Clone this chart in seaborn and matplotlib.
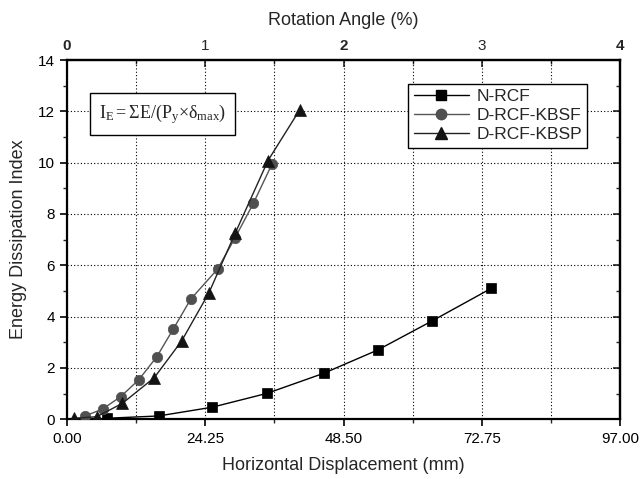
import matplotlib
matplotlib.use("Agg")
import matplotlib.pyplot as plt
import seaborn as sns
import pandas as pd
from matplotlib.ticker import MultipleLocator, FixedLocator
from matplotlib.lines import Line2D

sns.set_theme(style="ticks")
plt.rcParams['font.family'] = ['Liberation Sans', 'DejaVu Sans']
plt.rcParams['mathtext.fontset'] = 'custom'
plt.rcParams['mathtext.rm'] = 'Liberation Serif'
plt.rcParams['mathtext.it'] = 'Liberation Serif:italic'

series_names = ["N-RCF", "D-RCF-KBSF", "D-RCF-KBSP"]
nrcf_x = [6.95, 16.05, 25.45, 35.07, 45.0, 54.5, 64.1, 74.4]
nrcf_y = [0.04, 0.13, 0.47, 1.01, 1.79, 2.70, 3.84, 5.10]
kbsf_x = [3.15, 6.25, 9.4, 12.55, 15.76, 18.65, 21.7, 26.4, 29.5, 32.7, 35.95]
kbsf_y = [0.13, 0.40, 0.88, 1.53, 2.44, 3.52, 4.68, 5.85, 7.08, 8.42, 9.94]
kbsp_x = [1.2, 5.2, 9.7, 15.3, 20.1, 24.9, 29.5, 35.25, 40.8]
kbsp_y = [0.04, 0.10, 0.62, 1.62, 3.05, 4.93, 7.25, 10.08, 12.05]

x_ticks = [0.0, 24.25, 48.5, 72.75, 97.0]
rot_ticks = [0, 1, 2, 3, 4]
y_ticks = [0, 2, 4, 6, 8, 10, 12, 14]

frames = []
for name, xs, ys in zip(series_names, [nrcf_x, kbsf_x, kbsp_x], [nrcf_y, kbsf_y, kbsp_y]):
    frames.append(pd.DataFrame({"disp": xs, "edi": ys, "series": name}))
df = pd.concat(frames, ignore_index=True)

line_colors = {"N-RCF": "#000000", "D-RCF-KBSF": "#555555", "D-RCF-KBSP": "#222222"}
marker_colors = {"N-RCF": "#000000", "D-RCF-KBSF": "#505050", "D-RCF-KBSP": "#141414"}
markers = {"N-RCF": "s", "D-RCF-KBSF": "o", "D-RCF-KBSP": "^"}
msizes = {"N-RCF": 7, "D-RCF-KBSF": 7.5, "D-RCF-KBSP": 8.5}

fig = plt.figure(figsize=(6.41, 4.79), dpi=100)
ax = fig.add_axes([67/641, 1-419.3/479, (620-67)/641, (419.3-60)/479])

for name in series_names:
    sub = df[df.series == name]
    sns.lineplot(data=sub, x="disp", y="edi", ax=ax, sort=False, color=line_colors[name],
                 lw=1.0, marker=markers[name], markersize=msizes[name],
                 markerfacecolor=marker_colors[name], markeredgecolor=marker_colors[name],
                 markeredgewidth=0.5, zorder=3, legend=False)

ax.set_xlim(0, 97)
ax.set_ylim(0, 14)
ax.xaxis.set_major_locator(FixedLocator(x_ticks))
ax.set_xticklabels([f"{v:.2f}" for v in x_ticks])
ax.xaxis.set_minor_locator(MultipleLocator(12.125))
ax.yaxis.set_major_locator(FixedLocator(y_ticks))
ax.yaxis.set_minor_locator(MultipleLocator(1))
ax.grid(True, which='both', axis='x', linestyle=(0, (1, 2)), color='black', lw=0.8)
ax.grid(True, which='major', axis='y', linestyle=(0, (1, 2)), color='black', lw=0.8)
ax.tick_params(axis='both', which='major', direction='out', length=5, width=1.2,
               labelsize=11, colors='black')
ax.tick_params(axis='both', which='minor', direction='out', length=3, width=1.0)
ax.tick_params(axis='x', pad=4)
for s in ax.spines.values():
    s.set_linewidth(1.6)
    s.set_color('black')
ax.set_xlabel("Horizontal Displacement (mm)", fontsize=13, labelpad=8)
ax.set_ylabel("Energy Dissipation Index", fontsize=13, labelpad=8)

# top axis
top = ax.secondary_xaxis('top', functions=(lambda v: v / 24.25, lambda v: v * 24.25))
top.xaxis.set_major_locator(FixedLocator(rot_ticks))
top.xaxis.set_minor_locator(MultipleLocator(0.5))
top.tick_params(which='major', direction='in', length=5, width=1.2, labelsize=11, pad=5)
top.tick_params(which='minor', direction='in', length=3, width=1.0)
top.set_xticklabels([str(v) for v in rot_ticks])
for i, lab in enumerate(top.get_xticklabels()):
    if rot_ticks[i] % 2 == 0:
        lab.set_fontweight('bold')
top.set_xlabel("Rotation Angle (%)", fontsize=13, labelpad=10)
top.spines['top'].set_linewidth(1.6)

# right axis ticks (inward, no labels)
right = ax.secondary_yaxis('right')
right.yaxis.set_major_locator(FixedLocator(y_ticks))
right.yaxis.set_minor_locator(MultipleLocator(1))
right.tick_params(which='major', direction='in', length=5, width=1.2, labelright=False)
right.tick_params(which='minor', direction='in', length=3, width=1.0)
right.spines['right'].set_linewidth(1.6)

# formula box
ax.text((163-67)/5.711, (419.3-114)/25.66,
        r'$\mathrm{I_E{=}\Sigma E/(P_y{\times}\delta_{max})}$',
        fontsize=13, ha='center', va='center', zorder=5,
        bbox=dict(boxstyle='square,pad=0.5', facecolor='white', edgecolor='black', lw=1.0))

handles = [Line2D([], [], color=line_colors[n], lw=1.0, marker=markers[n], markersize=msizes[n],
                  markerfacecolor=marker_colors[n], markeredgecolor=marker_colors[n])
           for n in series_names]
leg = ax.legend(handles, series_names, loc='upper right', bbox_to_anchor=(587/641, 1-84/479),
                bbox_transform=fig.transFigure, frameon=True, fancybox=False, framealpha=1,
                edgecolor='black', fontsize=12.5, handlelength=3.2, borderpad=0.3,
                labelspacing=0.22, handletextpad=0.4, borderaxespad=0)
leg.get_frame().set_linewidth(1.0)
leg.set_zorder(6)

fig.savefig("out.png", dpi=100)
